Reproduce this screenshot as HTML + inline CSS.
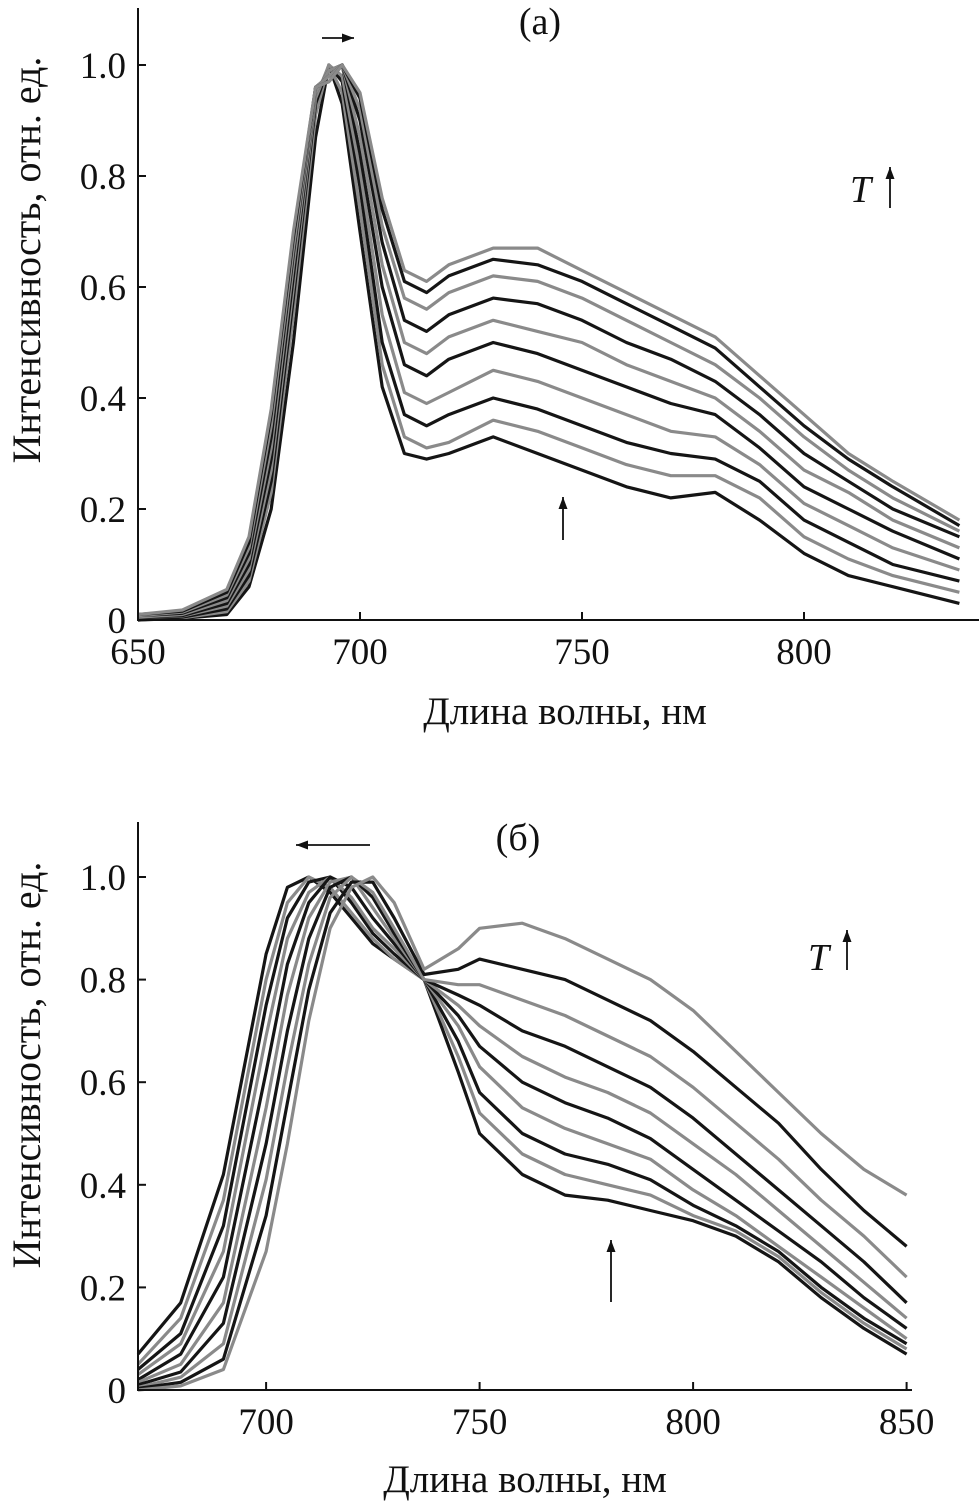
<!DOCTYPE html>
<html><head><meta charset="utf-8"><style>
html,body{margin:0;padding:0;background:#fff}
svg{display:block}
text{font-family:"Liberation Serif",serif;fill:#111}
</style></head><body>
<svg id="s" width="979" height="1507" viewBox="0 0 979 1507"></svg>
<script>
// ---- Chart (a) data ----
const wlA=[650,660,670,675,680,685,690,693,696,700,705,710,715,720,730,740,750,760,770,780,790,800,810,820,835];
const seriesA=[
[0,0.003,0.01,0.06,0.2,0.5,0.87,1.0,0.93,0.7,0.42,0.3,0.29,0.3,0.33,0.3,0.27,0.24,0.22,0.23,0.18,0.12,0.08,0.06,0.03],
[0,0.004,0.015,0.07,0.23,0.55,0.91,1.0,0.95,0.74,0.46,0.33,0.31,0.32,0.36,0.34,0.31,0.28,0.26,0.26,0.22,0.15,0.11,0.08,0.05],
[0,0.005,0.02,0.08,0.25,0.58,0.93,1.0,0.97,0.78,0.5,0.37,0.35,0.37,0.4,0.38,0.35,0.32,0.3,0.29,0.25,0.18,0.14,0.1,0.07],
[0.005,0.007,0.025,0.09,0.27,0.6,0.94,1.0,0.98,0.81,0.55,0.41,0.39,0.41,0.45,0.43,0.4,0.37,0.34,0.33,0.28,0.21,0.17,0.13,0.09],
[0.005,0.008,0.03,0.1,0.29,0.62,0.95,0.99,1.0,0.84,0.6,0.46,0.44,0.47,0.5,0.48,0.45,0.42,0.39,0.37,0.31,0.24,0.2,0.16,0.11],
[0.005,0.01,0.035,0.11,0.31,0.64,0.95,0.99,1.0,0.87,0.64,0.5,0.48,0.51,0.54,0.52,0.5,0.46,0.43,0.4,0.34,0.27,0.23,0.18,0.13],
[0.008,0.012,0.04,0.12,0.33,0.66,0.96,0.98,1.0,0.9,0.68,0.54,0.52,0.55,0.58,0.57,0.54,0.5,0.47,0.43,0.37,0.3,0.25,0.2,0.15],
[0.008,0.014,0.045,0.13,0.35,0.67,0.96,0.98,1.0,0.92,0.71,0.58,0.56,0.59,0.62,0.61,0.58,0.54,0.5,0.46,0.4,0.33,0.27,0.22,0.16],
[0.01,0.016,0.05,0.14,0.37,0.69,0.96,0.97,1.0,0.94,0.74,0.61,0.59,0.62,0.65,0.64,0.61,0.57,0.53,0.49,0.42,0.35,0.29,0.24,0.17],
[0.01,0.018,0.055,0.15,0.38,0.7,0.96,0.97,1.0,0.95,0.76,0.63,0.61,0.64,0.67,0.67,0.63,0.59,0.55,0.51,0.44,0.37,0.3,0.25,0.18]];
const xTicksA=[650,700,750,800];
const yTicksA=[0,0.2,0.4,0.6,0.8,1.0];
const yLabelsA=["0","0.2","0.4","0.6","0.8","1.0"];
// ---- Chart (б) data ----
const wlB=[670,680,690,700,705,710,715,720,725,730,737,745,750,760,770,780,790,800,810,820,830,840,850];
const seriesB=[
[0.07,0.17,0.42,0.85,0.98,1.0,0.97,0.92,0.87,0.84,0.8,0.62,0.5,0.42,0.38,0.37,0.35,0.33,0.3,0.25,0.18,0.12,0.07],
[0.05,0.14,0.37,0.8,0.95,1.0,0.98,0.93,0.88,0.84,0.8,0.65,0.54,0.46,0.42,0.4,0.38,0.34,0.31,0.26,0.19,0.13,0.08],
[0.04,0.11,0.32,0.75,0.92,0.99,1.0,0.95,0.89,0.85,0.8,0.68,0.58,0.5,0.46,0.44,0.41,0.36,0.32,0.27,0.2,0.14,0.09],
[0.03,0.09,0.27,0.69,0.88,0.97,1.0,0.96,0.9,0.86,0.8,0.71,0.63,0.55,0.51,0.48,0.45,0.39,0.34,0.28,0.22,0.16,0.1],
[0.02,0.07,0.22,0.62,0.83,0.95,1.0,0.98,0.92,0.87,0.8,0.73,0.67,0.6,0.56,0.53,0.49,0.43,0.37,0.31,0.25,0.18,0.12],
[0.015,0.05,0.17,0.55,0.77,0.92,0.99,1.0,0.94,0.88,0.8,0.75,0.71,0.65,0.61,0.58,0.54,0.48,0.42,0.35,0.28,0.21,0.14],
[0.01,0.035,0.13,0.48,0.7,0.88,0.98,1.0,0.96,0.89,0.8,0.77,0.75,0.7,0.67,0.63,0.59,0.53,0.46,0.39,0.32,0.25,0.17],
[0.005,0.025,0.09,0.41,0.63,0.83,0.96,1.0,0.97,0.9,0.8,0.79,0.79,0.76,0.73,0.69,0.65,0.59,0.52,0.45,0.37,0.3,0.22],
[0.003,0.015,0.06,0.34,0.56,0.78,0.93,0.99,0.99,0.92,0.81,0.82,0.84,0.82,0.8,0.76,0.72,0.66,0.59,0.52,0.43,0.35,0.28],
[0,0.008,0.04,0.27,0.48,0.72,0.9,0.98,1.0,0.95,0.82,0.86,0.9,0.91,0.88,0.84,0.8,0.74,0.66,0.58,0.5,0.43,0.38]];
const xTicksB=[700,750,800,850];
const yTicksB=[0,0.2,0.4,0.6,0.8,1.0];
const yLabelsB=["0","0.2","0.4","0.6","0.8","1.0"];

const NS="http://www.w3.org/2000/svg";
const svg=document.getElementById('s');
function mk(tag,attrs,parent){const e=document.createElementNS(NS,tag);for(const k in attrs)e.setAttribute(k,attrs[k]);(parent||svg).appendChild(e);return e;}

function chart(o){
  const g=mk('g',{});
  
  
  const X=v=>o.x0+(v-o.xmin)*o.kx;
  const Y=v=>o.y0-v*o.ky;
  o.series.forEach((s,i)=>{
    const pts=s.map((v,j)=>X(o.wl[j]).toFixed(1)+','+Y(v).toFixed(1)).join(' ');
    const p=mk('polyline',{points:pts,fill:'none',stroke:i%2?'#8a8a8a':'#151515','stroke-width':3.2,'stroke-linejoin':'round'},g);
    
    
  });
  const ax=mk('path',{d:`M${o.x0},${o.ytop} V${o.y0} H${o.xend}`,fill:'none',stroke:'#111','stroke-width':2},g);
  
  
  o.xt.forEach(t=>{
    mk('line',{x1:X(t),x2:X(t),y1:o.y0,y2:o.y0-8,stroke:'#111','stroke-width':2},g);
    const tx=mk('text',{x:X(t),y:o.y0+44,'font-size':37,'text-anchor':'middle'},g);
    tx.textContent=t;
    
    
  });
  o.yt.forEach((t,i)=>{
    mk('line',{x1:o.x0,x2:o.x0+8,y1:Y(t),y2:Y(t),stroke:'#111','stroke-width':2},g);
    const tx=mk('text',{x:o.x0-12,y:Y(t)+13,'font-size':37,'text-anchor':'end'},g);
    tx.textContent=o.yl[i];
    
    
  });
  const xl=mk('text',{x:o.xlx,y:o.xly,'font-size':39,'text-anchor':'middle'},g);
  xl.textContent='Длина волны, нм';
  
  
  const yl=mk('text',{x:0,y:0,'font-size':40,'text-anchor':'middle',transform:`translate(40,${o.yly}) rotate(-90)`},g);
  yl.textContent='Интенсивность, отн. ед.';
  
  
  const ti=mk('text',{x:o.tx,y:o.ty,'font-size':38,'text-anchor':'middle'},g);
  ti.textContent=o.title;
  
  
}
chart({name:'chart-a',wl:wlA,series:seriesA,x0:138,xmin:650,kx:4.44,y0:620,ky:555,ytop:8,xend:979,xt:xTicksA,yt:yTicksA,yl:yLabelsA,xlx:565,xly:724,yly:260,title:'(a)',tx:540,ty:34});
chart({name:'chart-b',wl:wlB,series:seriesB,x0:138,xmin:670,kx:4.27,y0:1390,ky:513,ytop:822,xend:912,xt:xTicksB,yt:yTicksB,yl:yLabelsB,xlx:525,xly:1492,yly:1065,title:'(б)',tx:518,ty:850});

function arrow(x1,y1,x2,y2,name){
  const g=mk('g',{});
  
  
  mk('line',{x1,y1,x2,y2,stroke:'#111','stroke-width':1.8},g);
  const a=Math.atan2(y2-y1,x2-x1),L=12,W=4.5;
  const p=[[x2,y2],[x2-L*Math.cos(a)+W*Math.sin(a),y2-L*Math.sin(a)-W*Math.cos(a)],[x2-L*Math.cos(a)-W*Math.sin(a),y2-L*Math.sin(a)+W*Math.cos(a)]];
  mk('polygon',{points:p.map(q=>q.join(',')).join(' '),fill:'#111'},g);
}
arrow(322,38,354,38,'shift-arrow-a');
arrow(563,540,563,497,'rise-arrow-a');
arrow(890,208,890,167,'t-arrow-a');
arrow(370,845,296,845,'shift-arrow-b');
arrow(611,1302,611,1240,'rise-arrow-b');
arrow(847,970,847,930,'t-arrow-b');
const t1=mk('text',{x:850,y:202,'font-size':38,'font-style':'italic'});
t1.textContent='T';


const t2=mk('text',{x:808,y:970,'font-size':38,'font-style':'italic'});
t2.textContent='T';


</script>
</body></html>
